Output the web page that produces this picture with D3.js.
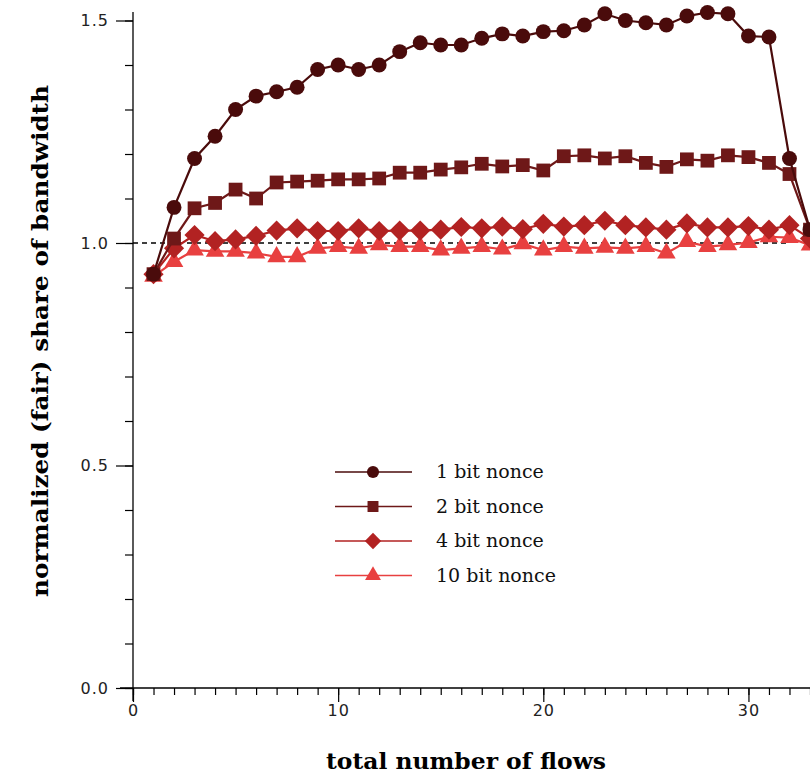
<!DOCTYPE html>
<html>
<head>
<meta charset="utf-8">
<script src="https://cdn.jsdelivr.net/npm/d3@7"></script>
<style>
  body { margin: 0; background: #fff; }
  .tick text { font-family: "DejaVu Sans", sans-serif; font-size: 16px; fill: #222; letter-spacing: 1px; }
  .axis-title { font-family: "DejaVu Serif", serif; font-weight: bold; font-size: 22px; }
  .legend text { font-family: "DejaVu Serif", serif; font-size: 19px; fill: #111; }
</style>
</head>
<body>
<script>
    const chart_width = 810;
    const chart_height = 777;

    const flows = d3.range(1, 34);
    const series_names = ["1 bit nonce", "2 bit nonce", "4 bit nonce", "10 bit nonce"];
    const series_colors = ["#4a0b0b", "#6e1818", "#b22222", "#e84040"];
    const series_shapes = [d3.symbolCircle, d3.symbolSquare, d3.symbolDiamond2, d3.symbolTriangle];

    const nonce1 = [0.93, 1.08, 1.19, 1.24, 1.30, 1.33, 1.34, 1.35, 1.39, 1.40, 1.39, 1.40, 1.43, 1.45, 1.445, 1.445,
      1.46, 1.47, 1.465, 1.475, 1.477, 1.49, 1.515, 1.50, 1.495, 1.49, 1.51, 1.518, 1.515, 1.465, 1.463, 1.19, 1.03];
    const nonce2 = [0.93, 1.01, 1.078, 1.09, 1.12, 1.10, 1.136, 1.138, 1.14, 1.143, 1.143, 1.145, 1.158, 1.158, 1.165, 1.17,
      1.178, 1.172, 1.175, 1.163, 1.195, 1.197, 1.19, 1.195, 1.18, 1.171, 1.188, 1.185, 1.197, 1.193, 1.18, 1.155, 1.03];
    const nonce4 = [0.93, 0.988, 1.018, 1.004, 1.008, 1.016, 1.028, 1.033, 1.027, 1.027, 1.033, 1.027, 1.028, 1.028, 1.03, 1.036,
      1.033, 1.037, 1.031, 1.043, 1.037, 1.04, 1.05, 1.04, 1.035, 1.03, 1.044, 1.035, 1.035, 1.038, 1.03, 1.04, 1.01];
    const nonce10 = [0.925, 0.958, 0.984, 0.981, 0.981, 0.977, 0.969, 0.969, 0.988, 0.992, 0.988, 0.996, 0.992, 0.992, 0.984, 0.988,
      0.992, 0.986, 0.998, 0.984, 0.992, 0.988, 0.99, 0.988, 0.992, 0.977, 1.003, 0.992, 0.996, 1.001, 1.014, 1.012, 0.995];
    const all_series = [nonce1, nonce2, nonce4, nonce10];

    const svg = d3.select('body').append('svg').attr('width', chart_width).attr('height', chart_height);

    const x = d3.scaleLinear().domain([0, 33]).range([133, 810]);
    const y = d3.scaleLinear().domain([0, 1.5]).range([688, 20.5]);

    // y axis: minor every 0.1, labels every 0.5
    svg.append('line').attr('x1', 133).attr('x2', 133).attr('y1', 12).attr('y2', 701).attr('stroke', '#000').attr('stroke-width', 1.3);
    svg.append('g').attr('transform', 'translate(133,0)')
      .call(d3.axisLeft(y).tickValues(d3.range(0, 1.51, 0.1)).tickSize(8).tickFormat(''))
      .call(g => g.select('.domain').remove());
    svg.append('g').attr('transform', 'translate(133,0)')
      .call(d3.axisLeft(y).tickValues([0, 0.5, 1.0, 1.5]).tickSize(17).tickPadding(7).tickFormat(d3.format('.1f')))
      .call(g => g.select('.domain').remove());

    // x axis: minor every 1, labels every 10
    svg.append('line').attr('x1', 120).attr('x2', 810).attr('y1', 688).attr('y2', 688).attr('stroke', '#000').attr('stroke-width', 1.3);
    svg.append('g').attr('transform', 'translate(0,688)')
      .call(d3.axisBottom(x).tickValues(d3.range(0, 34, 1)).tickSize(7).tickFormat(''))
      .call(g => g.select('.domain').remove());
    svg.append('g').attr('transform', 'translate(0,688)')
      .call(d3.axisBottom(x).tickValues([0, 10, 20, 30]).tickSize(14).tickPadding(3).tickFormat(d3.format('d')))
      .call(g => g.select('.domain').remove());

    svg.selectAll('.tick line').attr('stroke', '#000').attr('stroke-width', 1.2);

    // reference line at fair share
    svg.append('line')
      .attr('x1', x(0)).attr('x2', x(32)).attr('y1', y(1)).attr('y2', y(1))
      .attr('stroke', '#000').attr('stroke-width', 1.3).attr('stroke-dasharray', '5,4');

    const line = d3.line().x((d, i) => x(flows[i])).y(d => y(d));
    const symbol_sizes = [175, 190, 260, 150];

    // draw from lightest to darkest so darker series sit on top
    for (let s = all_series.length - 1; s >= 0; s--) {
      const g = svg.append('g');
      g.append('path').attr('d', line(all_series[s]))
        .attr('fill', 'none').attr('stroke', series_colors[s]).attr('stroke-width', 2.2);
      g.selectAll('path.mark').data(all_series[s]).enter().append('path')
        .attr('class', 'mark')
        .attr('transform', (d, i) => `translate(${x(flows[i])},${y(d)})`)
        .attr('d', d3.symbol().type(series_shapes[s]).size(symbol_sizes[s]))
        .attr('fill', series_colors[s]);
    }

    // legend
    const legend = svg.append('g').attr('class', 'legend');
    const legend_sizes = [115, 120, 170, 110];
    series_names.forEach((name, i) => {
      const ly = 472 + i * 34.5;
      legend.append('line').attr('x1', 335).attr('x2', 412).attr('y1', ly).attr('y2', ly)
        .attr('stroke', series_colors[i]).attr('stroke-width', 1.6);
      legend.append('path').attr('transform', `translate(373,${ly})`)
        .attr('d', d3.symbol().type(series_shapes[i]).size(legend_sizes[i]))
        .attr('fill', series_colors[i]);
      legend.append('text').attr('x', 436).attr('y', ly + 6).text(name);
    });

    svg.append('text').attr('class', 'axis-title')
      .attr('x', 326).attr('y', 769)
      .attr('textLength', 280).attr('lengthAdjust', 'spacingAndGlyphs')
      .text('total number of flows');
    svg.append('text').attr('class', 'axis-title')
      .attr('transform', 'translate(48,597) rotate(-90)')
      .attr('textLength', 512).attr('lengthAdjust', 'spacingAndGlyphs')
      .text('normalized (fair) share of bandwidth');
</script>
</body>
</html>
